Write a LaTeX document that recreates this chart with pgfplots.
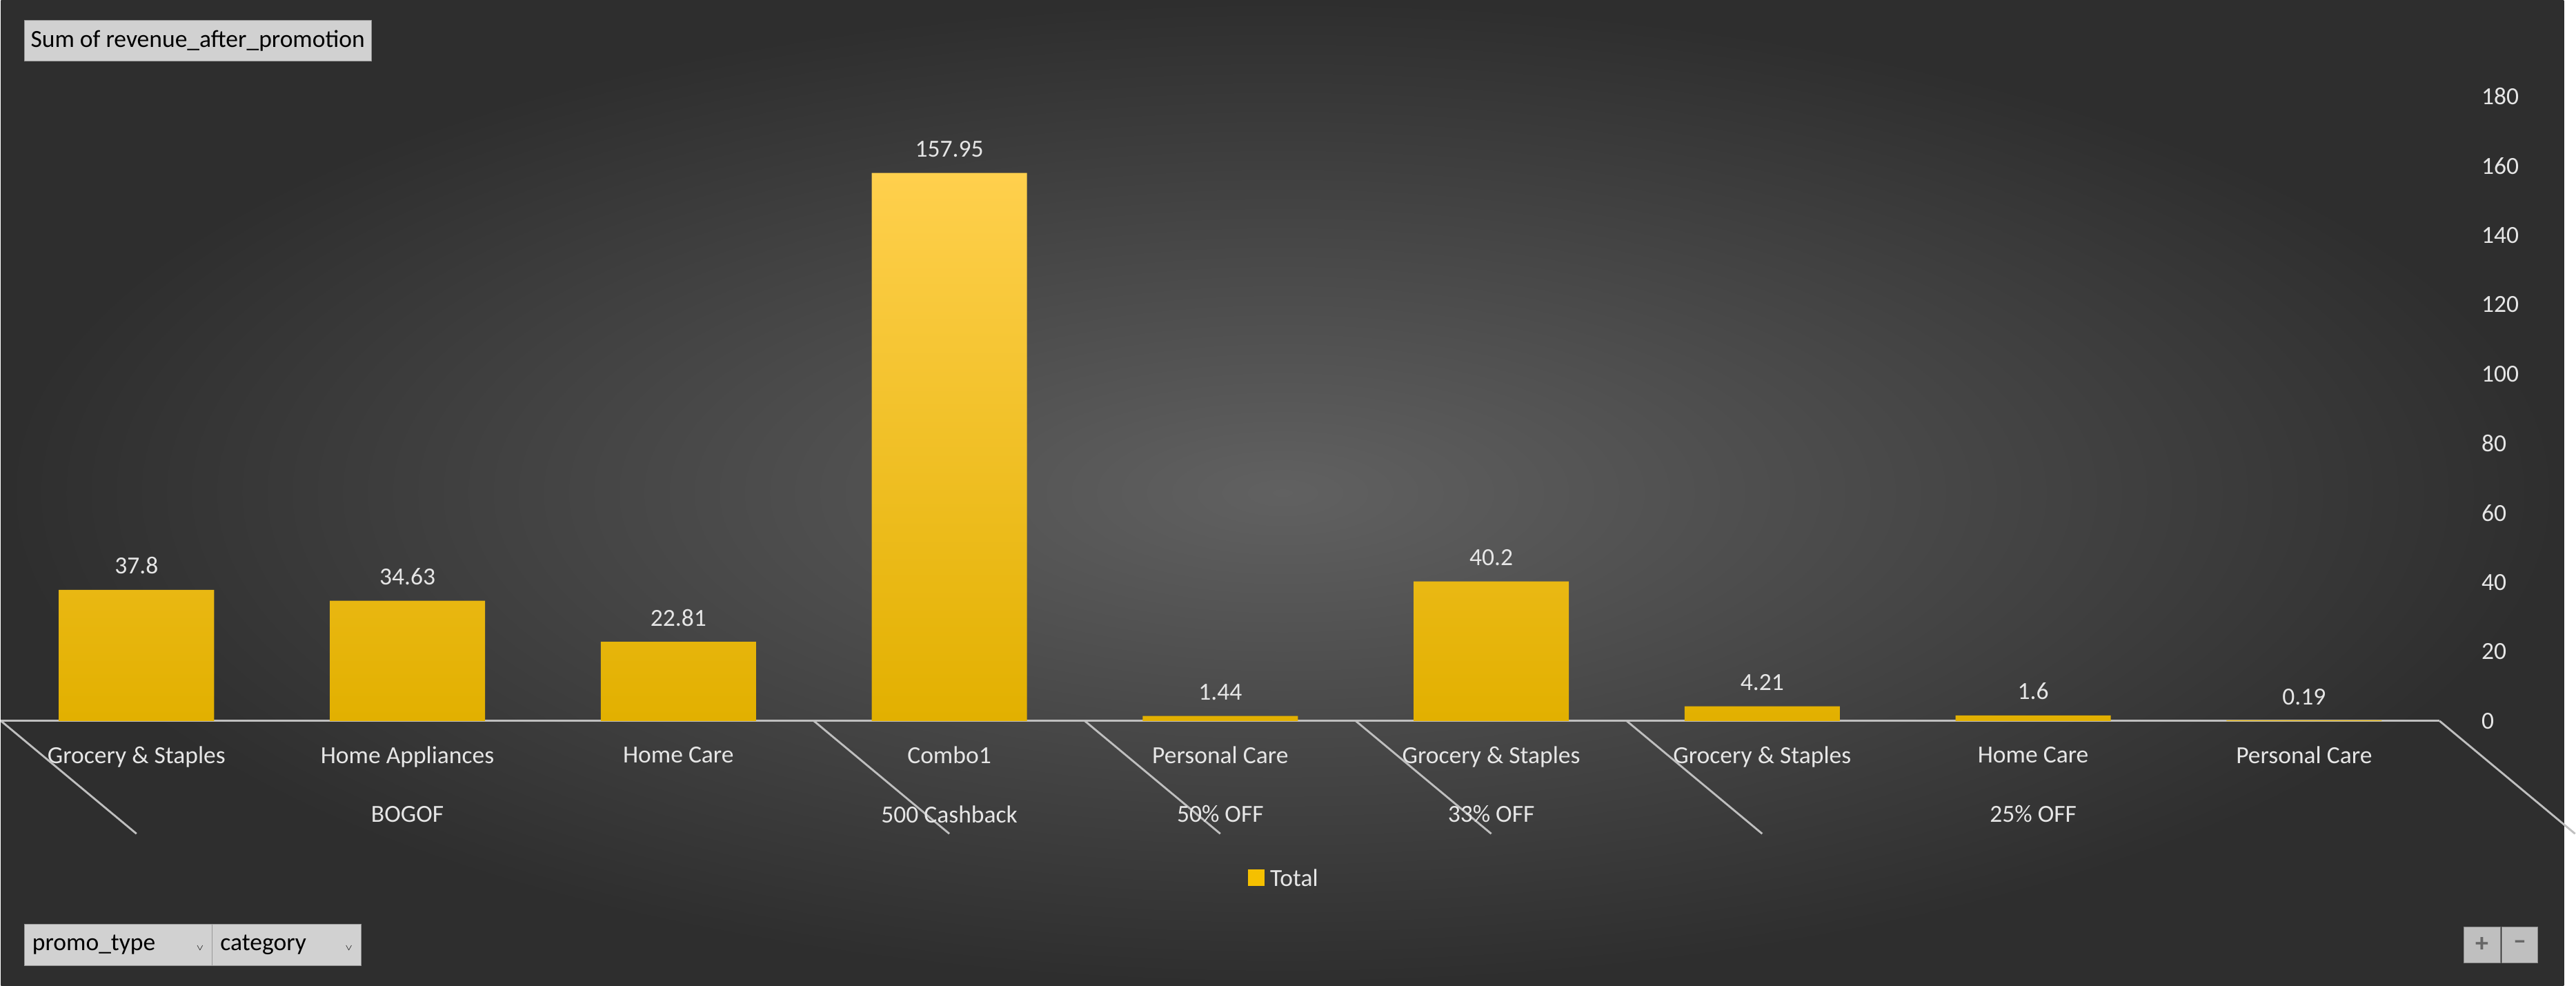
\documentclass[border=0pt]{standalone}
\usepackage{pgfplots}
\pgfplotsset{compat=1.18}
\usepackage{fontspec}
\setmainfont{Carlito}
\definecolor{txt}{HTML}{E6E6E6}
\definecolor{ax}{HTML}{BFBFBF}
\definecolor{barA}{HTML}{FFD04D}
\definecolor{barB}{HTML}{F5C000}
\definecolor{barC}{HTML}{E2B000}
\begin{document}
\begin{tikzpicture}
\shade[inner color=black!62, outer color=black!82] (0,0) rectangle (1568pt,603pt);
\begin{axis}[at={(0pt,162pt)}, anchor=south west, scale only axis,
  width=1492pt, height=382pt, xmin=-0.5, xmax=8.5, ymin=0, ymax=180,
  clip=false, axis x line=bottom, axis y line=right,
  x axis line style={draw=ax, line width=1.2pt, -},
  y axis line style={draw=none}, tick style={draw=none},
  ytick={0,20,...,180}, yticklabel style={text=txt, font=\fontsize{15}{18}\selectfont, xshift=20pt},
  /pgf/number format/assume math mode=true,
  xtick={0,...,8}, xticklabels={Grocery \& Staples,Home Appliances,Home Care,Combo1,Personal Care,Grocery \& Staples,Grocery \& Staples,Home Care,Personal Care},
  xticklabel style={text=txt, font=\fontsize{15}{18}\selectfont, yshift=-8pt},
  ybar, bar width=95pt,
  nodes near coords, every node near coord/.append style={text=txt, font=\fontsize{15}{18}\selectfont, yshift=6pt},
]
\addplot[draw=none, shade, top color=barA, middle color=barB, bottom color=barC] coordinates {(0,37.8) (1,34.63) (2,22.81) (3,157.95) (4,1.44) (5,40.2) (6,4.21) (7,1.6) (8,0.19)};
\draw[ax, line width=1.2pt] (axis cs:-0.5,0) -- ++(0,-69pt);
\draw[ax, line width=1.2pt] (axis cs:2.5,0) -- ++(0,-69pt);
\draw[ax, line width=1.2pt] (axis cs:3.5,0) -- ++(0,-69pt);
\draw[ax, line width=1.2pt] (axis cs:4.5,0) -- ++(0,-69pt);
\draw[ax, line width=1.2pt] (axis cs:5.5,0) -- ++(0,-69pt);
\draw[ax, line width=1.2pt] (axis cs:8.5,0) -- ++(0,-69pt);
\node[text=txt, font=\fontsize{15}{18}\selectfont] at ([yshift=-57pt]axis cs:1,0) {BOGOF};
\node[text=txt, font=\fontsize{15}{18}\selectfont] at ([yshift=-57pt]axis cs:3,0) {500 Cashback};
\node[text=txt, font=\fontsize{15}{18}\selectfont] at ([yshift=-57pt]axis cs:4,0) {50\% OFF};
\node[text=txt, font=\fontsize{15}{18}\selectfont] at ([yshift=-57pt]axis cs:5,0) {33\% OFF};
\node[text=txt, font=\fontsize{15}{18}\selectfont] at ([yshift=-57pt]axis cs:7,0) {25\% OFF};
\end{axis}
\node[fill=black!18, draw=black!40, text=black, font=\fontsize{15}{18}\selectfont, anchor=west, inner xsep=4pt, minimum height=25pt] at (14pt,578pt) {Sum of revenue\_after\_promotion};
\fill[barB] (763pt,61pt) rectangle (773pt,71pt);
\node[text=txt, font=\fontsize{15}{18}\selectfont, anchor=west] at (773pt,66pt) {Total};
\node[fill=black!18, draw=black!40, text=black, font=\fontsize{15}{18}\selectfont, anchor=west, minimum width=115pt, minimum height=25pt, text width=105pt] at (14pt,25pt) {promo\_type \hfill{\tiny$\vee$}};
\node[fill=black!18, draw=black!40, text=black, font=\fontsize{15}{18}\selectfont, anchor=west, minimum width=91pt, minimum height=25pt, text width=81pt] at (129pt,25pt) {category \hfill{\tiny$\vee$}};
\node[fill=black!25, draw=black!45, text=black!60, font=\bfseries\fontsize{16}{18}\selectfont, minimum size=22pt] at (1518pt,25pt) {+};
\node[fill=black!25, draw=black!45, text=black!60, font=\bfseries\fontsize{16}{18}\selectfont, minimum size=22pt] at (1541pt,25pt) {--};
\end{tikzpicture}
\end{document}
